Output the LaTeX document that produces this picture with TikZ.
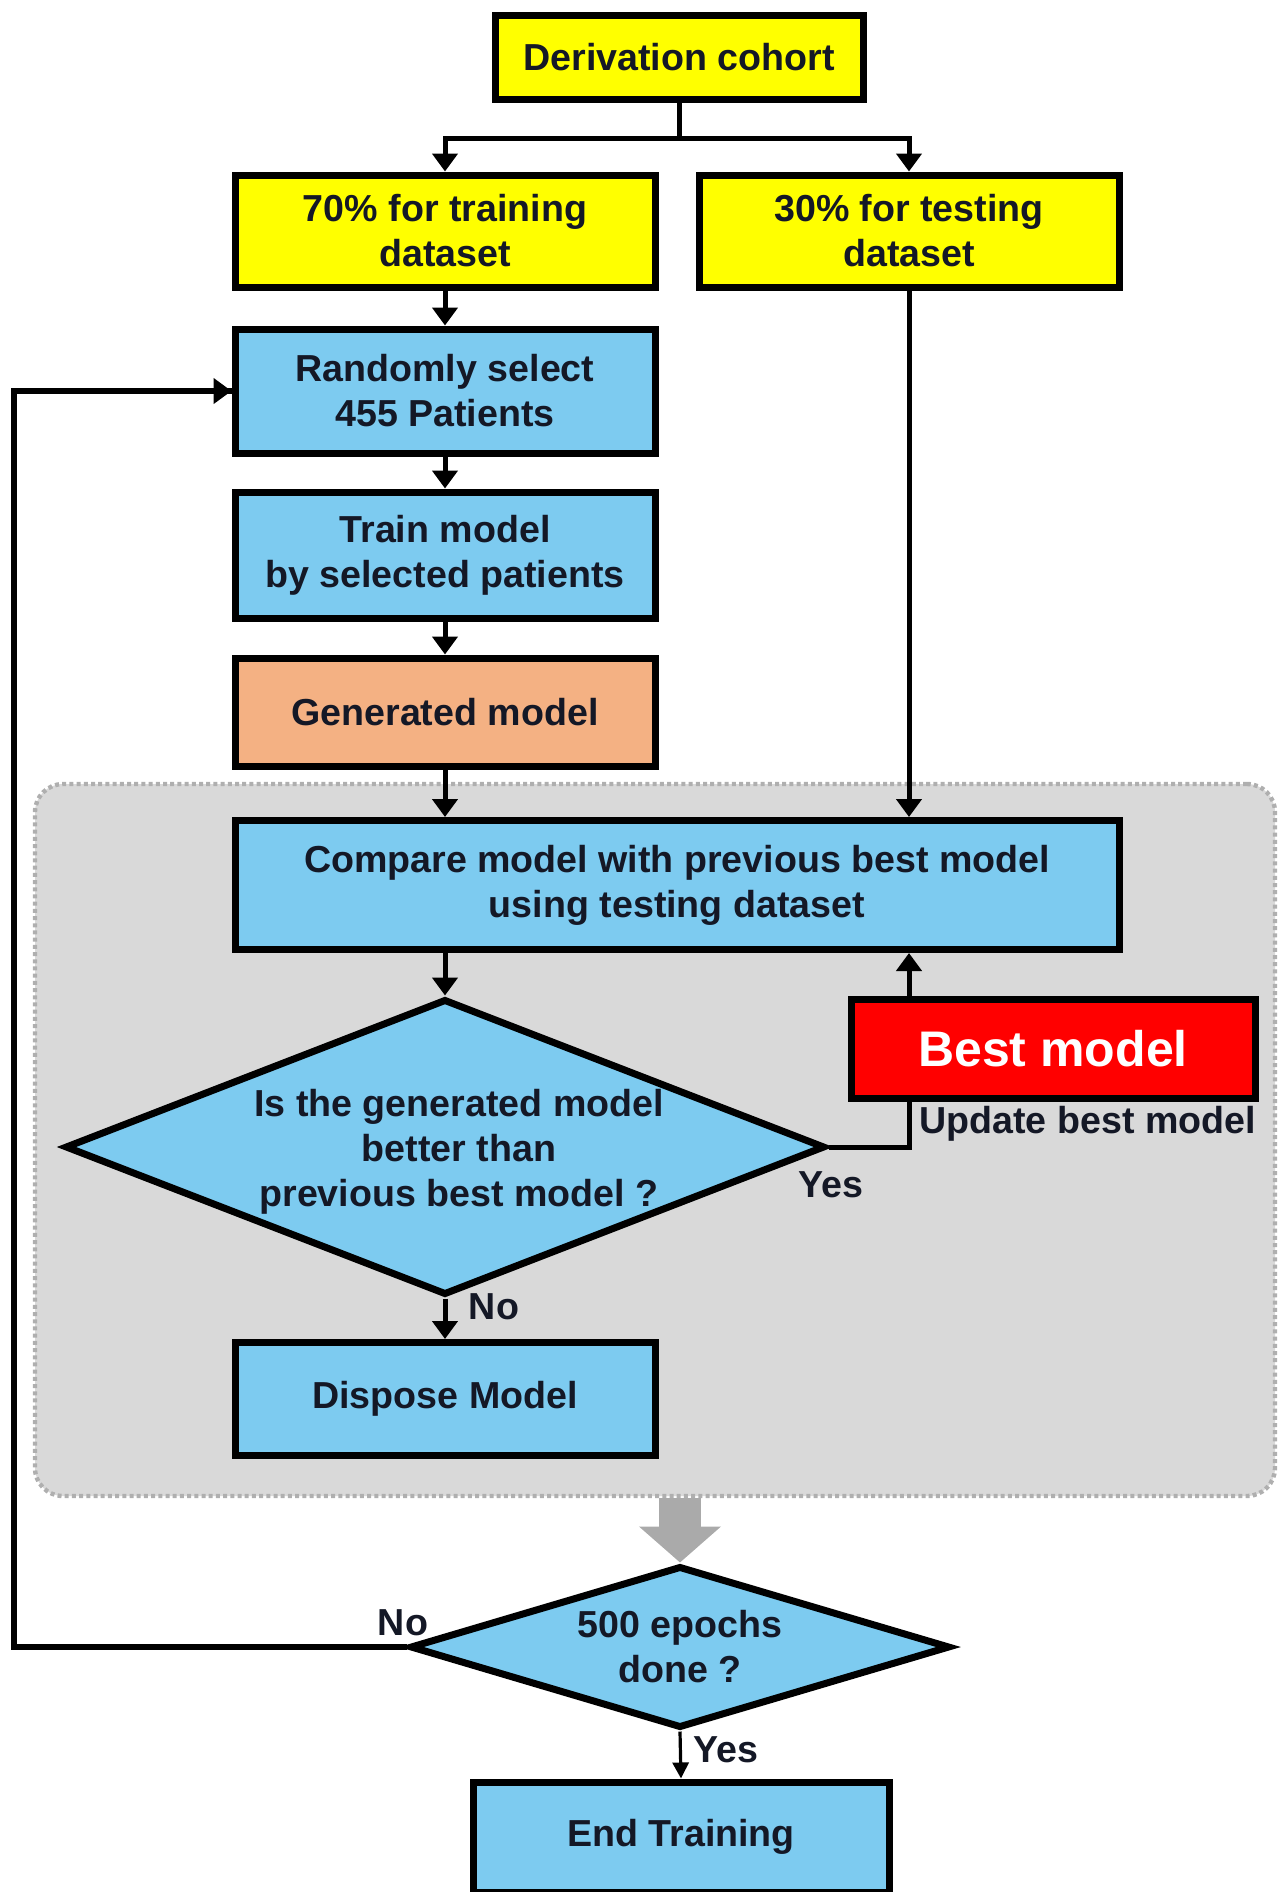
\documentclass[tikz,border=0pt]{standalone}
\usepackage{fontspec}
\setmainfont{Liberation Sans}
\usetikzlibrary{shapes.geometric,arrows.meta}
\definecolor{ylw}{RGB}{255,255,0}
\definecolor{sky}{RGB}{125,203,240}
\definecolor{salmon}{RGB}{244,177,131}
\definecolor{panelfill}{RGB}{217,217,217}
\definecolor{panelline}{RGB}{175,175,175}
\definecolor{ink}{RGB}{20,24,38}
\definecolor{bigarrow}{RGB}{170,170,170}
\definecolor{bestred}{RGB}{255,0,0}
\begin{document}
\begin{tikzpicture}[x=0.5pt,y=-0.5pt,
  txt/.style={font=\bfseries\fontsize{18.8}{22.5}\selectfont, text=ink},
  box/.style={txt, draw=black, line width=3.5pt, align=center, inner sep=0pt,
    minimum width=210pt},
  dia/.style={txt, diamond, draw=black, line width=3.5pt, fill=sky, align=center,
    inner sep=0pt},
  conn/.style={draw=black, line width=2.5pt},
  arr/.style={conn, -{Triangle[length=9pt,width=12.5pt]}},
  lbl/.style={txt, inner sep=0pt}
]
\useasboundingbox (0,0) rectangle (1278,1892);

% grey panel
\node[draw=panelline, fill=panelfill, line width=2.2pt, dash pattern=on 2pt off 1.6pt,
  rounded corners=14pt, minimum width=620pt, minimum height=356pt, inner sep=0pt]
  (panel) at (655,1140) {};

% nodes
\node[box, fill=ylw, minimum width=184pt, minimum height=42pt] (der) at (679,57) {Derivation cohort};
\node[box, fill=ylw, minimum height=56pt] (train70) at (445,231) {70\% for training\\dataset};
\node[box, fill=ylw, minimum height=56pt] (test30) at (909,231) {30\% for testing\\dataset};
\node[box, fill=sky, minimum height=62pt] (rand) at (445,391) {Randomly select\\455 Patients};
\node[box, fill=sky, minimum height=63pt] (trainm) at (445,555) {Train model\\by selected patients};
\node[box, fill=salmon, minimum height=54pt] (gen) at (445,712) {Generated model};
\node[box, fill=sky, minimum width=442pt, minimum height=64.5pt] (comp) at (677,885) {Compare model with previous best model\\using testing dataset};
\node[dia, aspect=2.57, minimum width=380pt, minimum height=148pt] (d1) at (445,1147) {};
\node[lbl, align=center] (d1text) at (459,1152) {Is the generated model\\better than\\previous best model ?};
\node[box, fill=bestred, minimum width=202pt, minimum height=49.5pt, text=white,
  font=\bfseries\fontsize{25}{30}\selectfont] (best) at (1053,1049) {Best model};
\node[box, fill=sky, minimum height=56.5pt] (disp) at (445,1399) {Dispose Model};
\node[dia, aspect=3.34, minimum width=270pt, minimum height=81pt] (d2) at (680,1647) {500 epochs\\done ?};
\node[box, fill=sky, minimum width=208pt, minimum height=55pt] (endt) at (681,1837) {End Training};

% labels
\node[lbl, anchor=west] (lupd) at (919,1124) {Update best model};
\node[lbl] (lyes1) at (831,1185) {Yes};
\node[lbl] (lno1) at (494,1307) {No};
\node[lbl] (lno2) at (403,1623) {No};
\node[lbl] (lyes2) at (726,1750) {Yes};

\coordinate (split) at (679,138);
\coordinate (loopx) at (14,0);

% connectors
\draw[conn] (der.south) -- (split);
\draw[arr] (split) -| (train70.north);
\draw[arr] (split) -| (test30.north);
\draw[arr] (train70) -- (rand);
\draw[arr] (rand) -- (trainm);
\draw[arr] (trainm) -- (gen);
\draw[arr] (gen.south) -- (gen.south |- comp.north);
\draw[arr] (test30.south) -- (test30.south |- comp.north);
\draw[arr] (d1.north |- comp.south) -- (d1.north);
\draw[conn] (d1.east) -| (test30.center |- best.south);
\draw[arr] (test30.center |- best.north) -- (test30.center |- comp.south);
\draw[arr] (d1.south) -- (disp.north);
\draw[conn, line width=3pt] (d2.west) -- (d2.west -| loopx) |- (rand.west);
\draw[arr] ([xshift=-10pt]rand.west) -- (rand.west);
\draw[draw=black, line width=1.6pt, -{Triangle[length=8pt,width=8pt]}] (d2.south) -- (endt.north);
\draw[bigarrow, line width=21pt, -{Triangle[length=18pt,width=40pt]}] (panel.south -| d2.north) -- (d2.north);
\end{tikzpicture}
\end{document}
